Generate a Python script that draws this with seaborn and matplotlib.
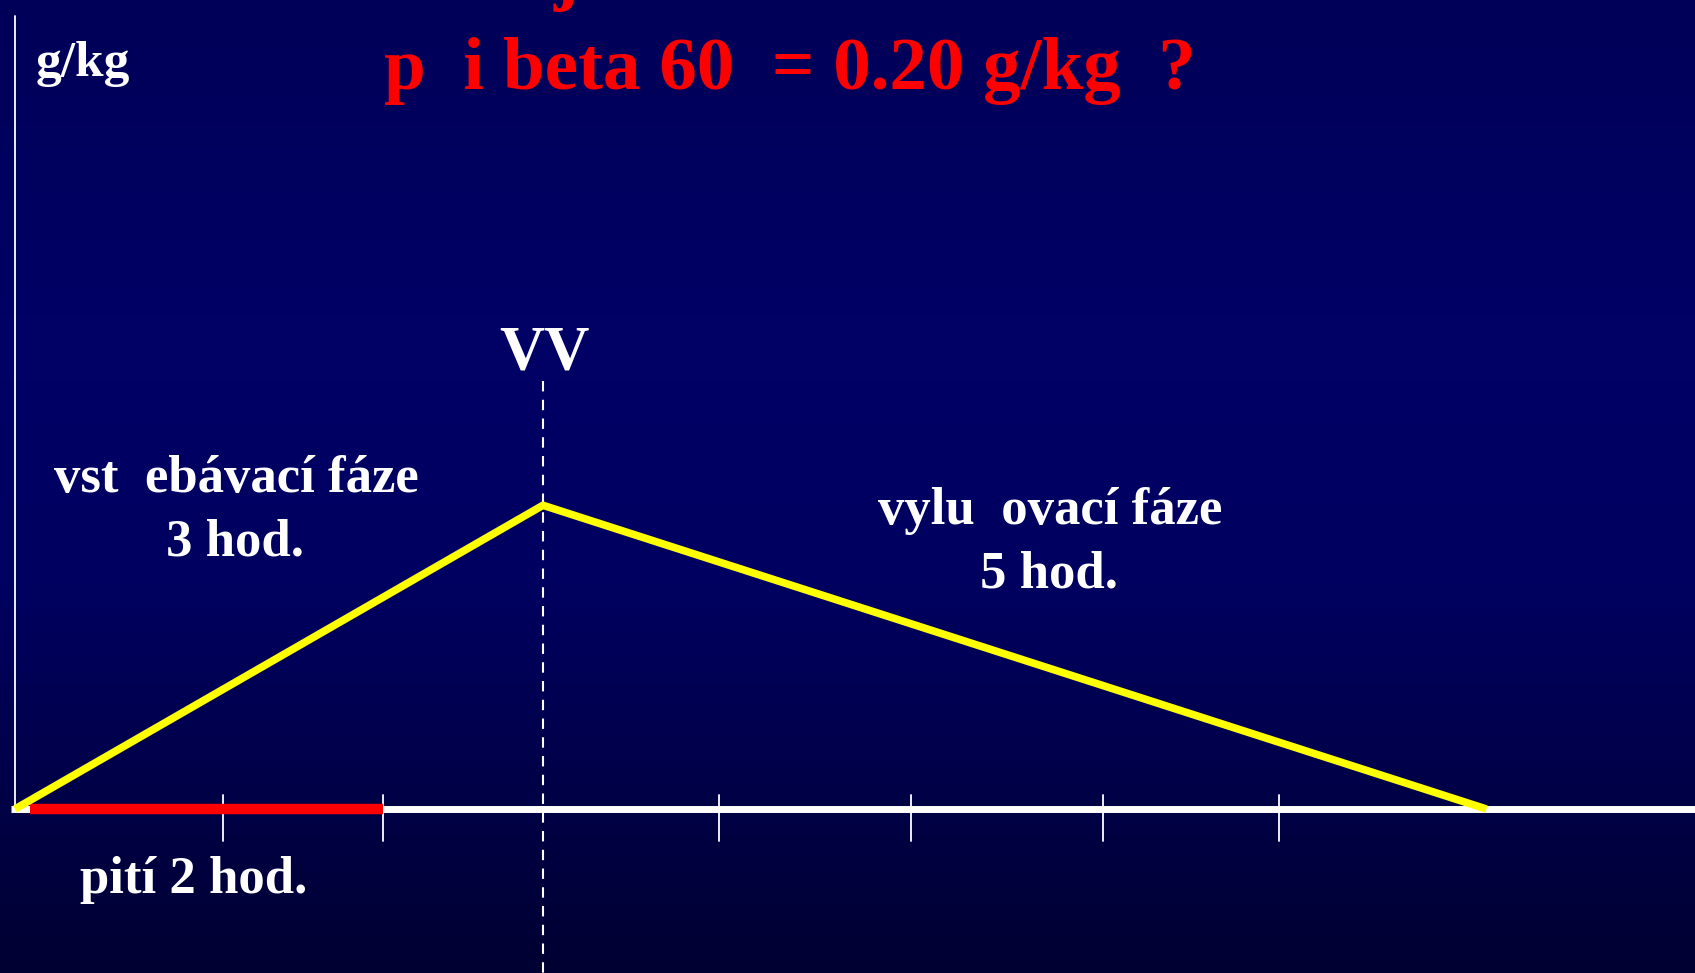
"""
Slide chart: blood alcohol curve - absorption phase, peak (VV),
elimination phase, with the drinking period marked on the time axis.
"""

import numpy as np
import pandas as pd
import seaborn as sns
import matplotlib.pyplot as plt
from matplotlib.colors import LinearSegmentedColormap

# time axis in hours, concentration in g/kg
curve_hours = [0.0, 3.0, 8.36]
curve_gkg = [0.0, 0.383, 0.0]
drink_hours = [0.085, 2.09]
tick_hours = [1.18, 2.09, 4.0, 5.09, 6.18, 7.18]
peak_hour = 3.0

title = 'p  i beta 60  = 0.20 g/kg  ?'
unit_label = 'g/kg'
peak_label = 'VV'
absorb_label = ['vst  ebávací fáze', '3 hod.']
elim_label = ['vylu  ovací fáze', '5 hod.']
drink_label = 'pití 2 hod.'

W, H = 1695, 973


def frac(x, y):
    """pixel position (from top-left) -> axes fraction"""
    return x / W, 1 - y / H


def main():
    sns.set_style('white')
    plt.rcParams['font.family'] = ['Liberation Serif', 'DejaVu Serif']
    plt.rcParams['font.weight'] = 'bold'

    fig = plt.figure(figsize=(W / 100, H / 100), dpi=100)
    ax = fig.add_axes([0, 0, 1, 1])
    ax.set_axis_off()

    # 176 px per hour, origin at x=15 px; 793 px per unit, zero at y=809 px
    xlim = (-15 / 176, (W - 15) / 176)
    ylim = (-(H - 809) / 793, 809 / 793)

    # background gradient
    cmap = LinearSegmentedColormap.from_list(
        'bg', [(0.0, (0, 0, 88 / 255)), (0.35, (0, 0, 102 / 255)),
               (0.6, (0, 0, 96 / 255)), (1.0, (0, 0, 50 / 255))])
    grad = np.linspace(0, 1, 256).reshape(-1, 1)
    ax.imshow(grad, cmap=cmap, aspect='auto',
              extent=(xlim[0], xlim[1], ylim[0], ylim[1]),
              origin='upper', zorder=0)
    ax.set_xlim(*xlim)
    ax.set_ylim(*ylim)

    # axes lines
    ax.plot([0, 0], [0, 1.0], color='white', lw=1.3, zorder=2)
    ax.plot([-0.02, xlim[1]], [0, 0], color='white', lw=5,
            solid_capstyle='butt', zorder=2)
    for h in tick_hours:
        ax.plot([h, h], [-0.04, 0.018], color='white', lw=1.3, zorder=2)
    ax.plot([peak_hour, peak_hour], [0.54, ylim[0]], color='white',
            lw=1.5, dashes=(5, 4), zorder=2)

    # drinking period
    drink = pd.DataFrame({'h': drink_hours, 'v': [0, 0]})
    sns.lineplot(data=drink, x='h', y='v', color='#ff0000', lw=7.5,
                 ax=ax, zorder=3)
    ax.lines[-1].set_solid_capstyle('butt')

    # concentration curve
    curve = pd.DataFrame({'h': curve_hours, 'v': curve_gkg})
    sns.lineplot(data=curve, x='h', y='v', color='#ffff00', lw=5.5,
                 ax=ax, zorder=4, sort=False)
    ax.lines[-1].set_solid_capstyle('butt')
    ax.set_xlabel('')
    ax.set_ylabel('')

    red = '#ff0000'
    tr = ax.transAxes
    ax.text(*frac(566, -4), 'j', color=red, fontsize=54, ha='center',
            va='baseline', transform=tr)
    ax.text(*frac(790, 89), title, color=red, fontsize=54, ha='center',
            va='baseline', transform=tr)
    ax.text(*frac(36, 76), unit_label, color='white', fontsize=37,
            ha='left', va='baseline', transform=tr)
    ax.text(*frac(544, 370), peak_label, color='white', fontsize=45,
            ha='center', va='baseline', transform=tr)
    ax.text(*frac(236, 492), absorb_label[0], color='white', fontsize=38,
            ha='center', va='baseline', transform=tr)
    ax.text(*frac(235, 555), absorb_label[1], color='white', fontsize=38,
            ha='center', va='baseline', transform=tr)
    ax.text(*frac(1050, 524), elim_label[0], color='white', fontsize=38,
            ha='center', va='baseline', transform=tr)
    ax.text(*frac(1049, 587), elim_label[1], color='white', fontsize=38,
            ha='center', va='baseline', transform=tr)
    ax.text(*frac(194, 893), drink_label, color='white', fontsize=38,
            ha='center', va='baseline', transform=tr)

    fig.savefig('out.png', dpi=100)


if __name__ == '__main__':
    main()
